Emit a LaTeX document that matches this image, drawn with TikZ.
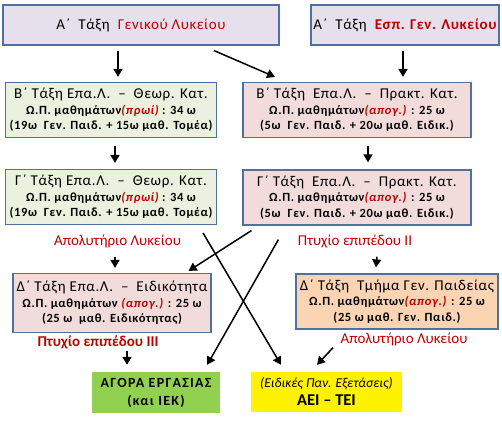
\documentclass[tikz,border=0pt]{standalone}
\usepackage{fontspec}
\setmainfont{Carlito}
\usepackage{tikz}
\usetikzlibrary{calc,arrows.meta}
\definecolor{frame}{RGB}{79,112,160}
\definecolor{lavender}{RGB}{229,224,236}
\definecolor{olivepale}{RGB}{235,241,222}
\definecolor{rosepale}{RGB}{242,220,219}
\definecolor{peach}{RGB}{251,212,180}
\definecolor{grassgreen}{RGB}{146,208,80}
\definecolor{dred}{RGB}{192,0,0}
\newcommand{\hrs}[1]{\textit{\textcolor{dred}{(#1)}}}
\newcommand{\subline}[1]{{\fontsize{12.5}{15.5}\selectfont\bfseries\addfontfeature{LetterSpace=5}#1}}

\begin{document}
\begin{tikzpicture}[x=1pt,y=-1pt,>=Latex,
  box/.style={draw=frame,line width=1.2pt,align=center,inner sep=2pt,
    font=\fontsize{15}{15.5}\selectfont\addfontfeature{LetterSpace=4}},
  cert/.style={text=dred,inner sep=1pt,font=\fontsize{15}{16}\selectfont},
  arr/.style={->,line width=1.5pt,arrows={-Triangle[width=9pt,length=8pt]}}]
  \useasboundingbox (0,0) rectangle (502,422);
  % first year
  \node[box,fill=lavender,minimum width=276,minimum height=40] (a1) at (141,25)
    {Α΄~~Τάξη~~\textcolor{dred}{Γενικού Λυκείου}};
  \node[box,fill=lavender,minimum width=188,minimum height=40] (a2) at (405,25)
    {Α΄~~Τάξη~~\textcolor{dred}{\bfseries Εσπ. Γεν. Λυκείου}};
  % second and third year
  \foreach \n/\k/\y in {b1/Β/110,c1/Γ/197}{
    \node[box,fill=olivepale,minimum width=211,minimum height=55] (\n) at (111,\y)
      {\k΄ Τάξη Επα.Λ. ~–~ Θεωρ. Κατ.\\
       \subline{Ω.Π. μαθημάτων\hrs{πρωί} : 34 ω}\\
       \subline{(19ω~ Γεν. Παιδ. + 15ω μαθ. Τομέα)}};
  }
  \foreach \n/\k/\y in {b2/Β/110,c2/Γ/197.5}{
    \node[box,fill=rosepale,minimum width=228,minimum height=55] (\n) at (357,\y)
      {\k΄ Τάξη~ Επα.Λ. ~–~ Πρακτ. Κατ.\\
       \subline{Ω.Π. μαθημάτων\hrs{απογ.} : 25 ω}\\
       \subline{(5ω~ Γεν. Παιδ. + 20ω μαθ. Ειδικ.)}};
  }
  \node[cert] (lc1) at (117.5,241) {Απολυτήριο Λυκείου};
  \node[cert] (lc2) at (355,241) {Πτυχίο επιπέδου ΙΙ};
  % fourth year
  \node[box,fill=rosepale,minimum width=198,minimum height=59] (d1) at (112,303)
    {Δ΄ Τάξη Επα.Λ. ~–~ Ειδικότητα\\
     \subline{Ω.Π. μαθημάτων \hrs{απογ.} : 25 ω}\\
     \subline{(25 ω~ μαθ. Ειδικότητας)}};
  \node[box,fill=peach,minimum width=202,minimum height=55] (d2) at (397,301.5)
    {Δ΄ Τάξη~ Τμήμα Γεν. Παιδείας\\
     \subline{Ω.Π. μαθημάτων\hrs{απογ.} : 25 ω}\\
     \subline{(25 ω μαθ. Γεν. Παιδ.)}};
  \node[cert] (ld1) at (98,342) {\bfseries Πτυχίο επιπέδου ΙΙΙ};
  \node[cert] (ld2) at (404,339) {Απολυτήριο Λυκείου};
  % outcomes
  \node[fill=grassgreen,minimum width=128,minimum height=41,align=center,
    font=\fontsize{14}{18}\selectfont\bfseries\addfontfeature{LetterSpace=9}] (e1) at (156,392.5)
    {ΑΓΟΡΑ ΕΡΓΑΣΙΑΣ\\ (και ΙΕΚ)};
  \node[fill=yellow,minimum width=151,minimum height=40,align=center,
    font=\fontsize{13.5}{18}\selectfont] (e2) at (326.5,392)
    {\textit{(Ειδικές Παν. Εξετάσεις)}\\
     {\fontsize{16.5}{18}\selectfont\bfseries ΑΕΙ – ΤΕΙ}};
  % arrows
  \draw[arr] ($(a1.south)+(-23,5)$) -- ($(b1.north)+(7,-5)$);
  \draw[arr] ($(a1.south)+(73,5)$) -- ($(b2.north)+(-82,-5)$);
  \draw[arr] ($(a2.south)+(-2,5)$) -- ($(b2.north)+(46,-5)$);
  \draw[arr] ($(b1.south)+(4,8)$) -- ($(c1.north)+(4,-6)$);
  \draw[arr] ($(b2.south)+(11,8)$) -- ($(c2.north)+(11,-7)$);
  \draw[arr] ($(lc1.south)+(-2.5,8)$) -- ($(d1.north)+(3,-5)$);
  \draw[arr] ($(lc2.south)+(22,8)$) -- ($(d2.north)+(-21,-6)$);
  \draw[arr] ($(c2.south west)+(9,5)$) -- ($(d1.north east)+(-23,-2)$);
  \draw[arr] ($(c1.south east)+(-14,8)$) -- ($(e2.north)+(-45.5,-7)$);
  \draw[arr] ($(c2.south west)+(36,14)$) -- ($(e1.north east)+(-13,-7)$);
  \draw[arr] ($(ld1.south)+(29,1)$) -- ($(e1.north)+(-29,-7)$);
  \draw[arr] ($(ld2.south)+(-71,1)$) -- ($(e2.north)+(-9.5,-7)$);
\end{tikzpicture}
\end{document}
